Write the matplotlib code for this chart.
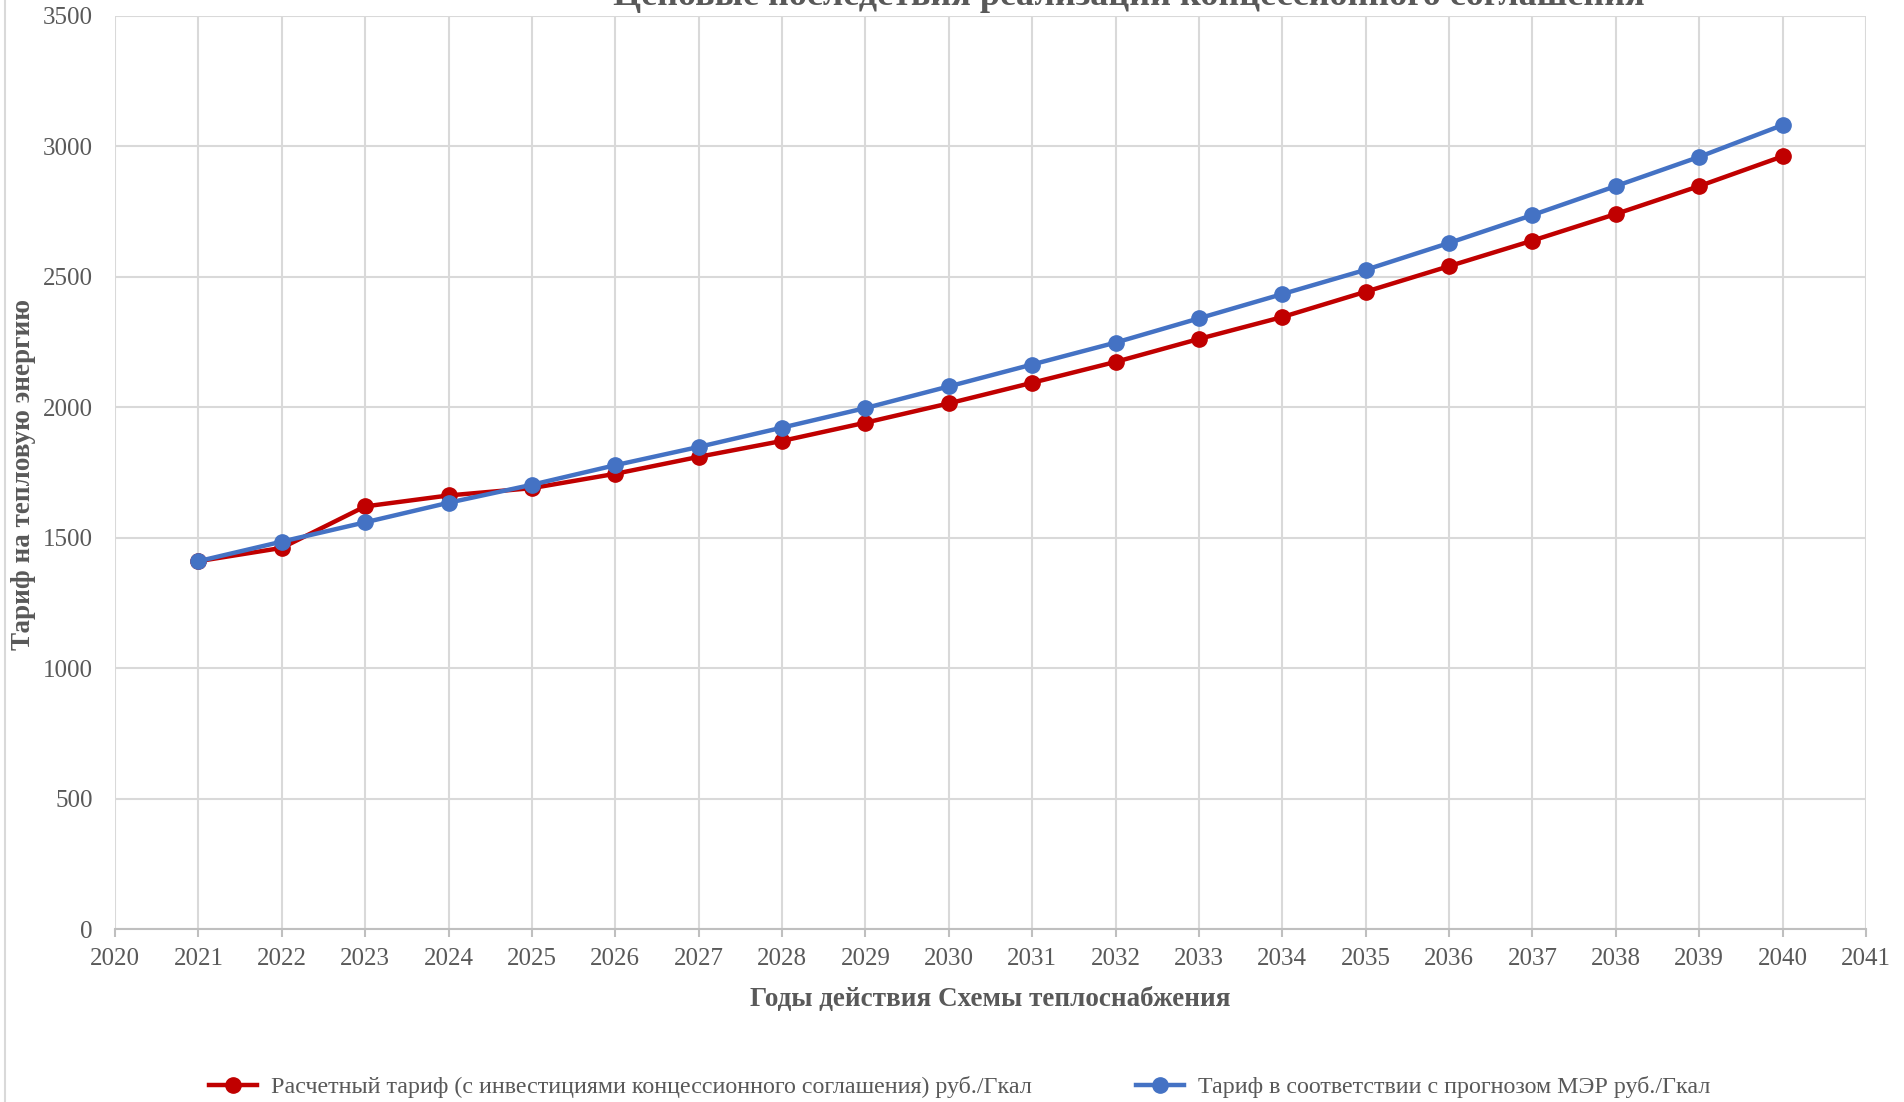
import matplotlib
matplotlib.use('Agg')
import matplotlib.pyplot as plt
from matplotlib.lines import Line2D

# data
years = list(range(2021, 2041))
calc_tariff = [1410, 1461, 1620, 1662, 1690, 1745, 1810, 1871, 1941, 2015,
               2094, 2174, 2262, 2346, 2443, 2541, 2639, 2741, 2848, 2962]
mer_tariff = [1410, 1485, 1559, 1634, 1703, 1778, 1848, 1922, 1997, 2080,
              2164, 2248, 2341, 2434, 2527, 2630, 2737, 2848, 2960, 3082]
x_ticks = list(range(2020, 2042))
y_ticks = list(range(0, 3501, 500))

title = 'Ценовые последствия реализации концессионного соглашения'
x_label = 'Годы действия Схемы теплоснабжения'
y_label = 'Тариф на тепловую энергию'
label_calc = 'Расчетный тариф (с инвестициями концессионного соглашения) руб./Гкал'
label_mer = 'Тариф в соответствии с прогнозом МЭР руб./Гкал'

plt.rcParams['font.family'] = ['Liberation Serif', 'DejaVu Serif']
grey = '#595959'
red = '#C00000'
blue = '#4472C4'

fig = plt.figure(figsize=(19.04, 11.02), dpi=100)
ax = fig.add_axes([115 / 1904, 1 - 929 / 1102, (1866 - 115) / 1904, (929 - 16) / 1102])

ax.plot(years, calc_tariff, color=red, lw=3.2, marker='o', ms=11, zorder=3)
ax.plot(years, mer_tariff, color=blue, lw=3.2, marker='o', ms=11, zorder=4)

ax.set_xlim(2020, 2041)
ax.set_ylim(0, 3500)
ax.set_xticks(x_ticks)
ax.set_yticks(y_ticks)
ax.grid(True, color='#d9d9d9', lw=1.5)
ax.set_axisbelow(True)
for s in ['top', 'right', 'left']:
    ax.spines[s].set_visible(False)
ax.spines['bottom'].set_color('#bfbfbf')
ax.spines['bottom'].set_linewidth(1.5)
ax.tick_params(axis='x', colors='#bfbfbf', labelcolor=grey, labelsize=18, length=6, width=1.5, pad=8)
ax.tick_params(axis='y', length=0, labelcolor=grey, labelsize=18, pad=16)

ax.set_xlabel(x_label, fontsize=19.5, fontweight='bold', color=grey, labelpad=12)
fig.text(24 / 1904, 1 - 474 / 1102, y_label, rotation=90, ha='center', va='center',
         fontsize=19.5, fontweight='bold', color=grey)

fig.text(1129 / 1904, 1 - 5 / 1102, title, ha='center', va='baseline',
         fontsize=26, fontweight='bold', color=grey)

# chart area border on the left
fig.add_artist(Line2D([5 / 1904, 5 / 1904], [0, 1], color='#d9d9d9', lw=1.5))

handles = [Line2D([], [], color=red, lw=3.2, marker='o', ms=11),
           Line2D([], [], color=blue, lw=3.2, marker='o', ms=11)]
fig.legend(handles, [label_calc, label_mer], loc='center', bbox_to_anchor=(0.504, 1 - 1087 / 1102),
           ncol=2, frameon=False, fontsize=17.3, labelcolor=grey, columnspacing=4.3,
           handlelength=2.0, handletextpad=0.6)

fig.savefig('out.png', dpi=100)
